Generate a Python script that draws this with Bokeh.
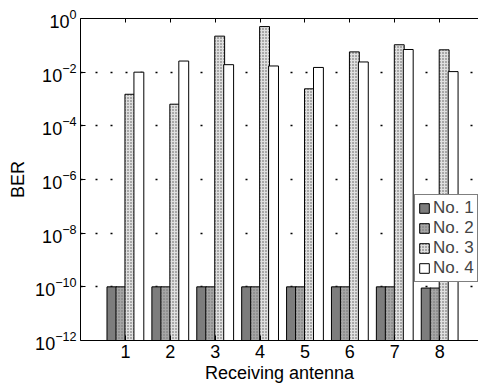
from bokeh.plotting import figure
from bokeh.models import (ColumnDataSource, FixedTicker, LinearAxis, Legend, LegendItem,
                          Range1d)
from bokeh.transform import dodge
from bokeh.embed import file_html
from bokeh.resources import INLINE

antennas = [1, 2, 3, 4, 5, 6, 7, 8]
no1 = [1e-10, 1e-10, 1e-10, 1e-10, 1e-10, 1e-10, 1e-10, 9e-11]
no2 = [1e-10, 1e-10, 1e-10, 1e-10, 1e-10, 1e-10, 1e-10, 9e-11]
no3 = [1.5e-3, 6.4e-4, 0.22, 0.5, 2.4e-3, 5.7e-2, 0.105, 6.8e-2]
no4 = [1.0e-2, 2.6e-2, 1.9e-2, 1.7e-2, 1.5e-2, 2.4e-2, 7.0e-2, 1.05e-2]
series_names = ["No. 1", "No. 2", "No. 3", "No. 4"]
y_ticks = [1e-12, 1e-10, 1e-8, 1e-6, 1e-4, 1e-2, 1e0]
floor = 1e-12

src = ColumnDataSource(dict(x=antennas, no1=no1, no2=no2, no3=no3, no4=no4,
                            base=[floor] * len(antennas)))

FONT = "Liberation Sans"

p = figure(width=478, height=385, output_backend="svg", toolbar_location=None,
           y_axis_type="log", x_range=Range1d(0, 8.865), y_range=Range1d(1e-12, 1),
           min_border_left=80, min_border_right=0, min_border_top=18, min_border_bottom=45)
p.background_fill_color = "white"
p.border_fill_color = "white"
p.outline_line_color = None

styles = [
    dict(fill_color="#7d7d7d", hatch_pattern=None),
    dict(fill_color="#a6a6a6", hatch_pattern="dot", hatch_color="#6e6e6e", hatch_scale=3, hatch_weight=1),
    dict(fill_color="#e0e0e0", hatch_pattern="dot", hatch_color="#555555", hatch_scale=3, hatch_weight=1),
    dict(fill_color="white", hatch_pattern=None),
]
offsets = [-0.3, -0.1, 0.1, 0.3]
cols = ["no1", "no2", "no3", "no4"]
renderers = []
for col, off, st in zip(cols, offsets, styles):
    kw = dict(fill_color=st["fill_color"], line_color="black", line_width=1)
    if st["hatch_pattern"]:
        kw.update(hatch_pattern=st["hatch_pattern"], hatch_color=st["hatch_color"],
                  hatch_scale=st["hatch_scale"], hatch_weight=st["hatch_weight"])
    r = p.vbar(x=dodge("x", off, range=p.x_range), top=col, bottom="base", width=0.22,
               source=src, **kw)
    renderers.append(r)

# axes
p.xaxis.ticker = FixedTicker(ticks=antennas)
p.xaxis.major_label_overrides = {a: str(a) for a in antennas}
p.yaxis.ticker = FixedTicker(ticks=y_ticks, minor_ticks=[])
for ax in p.axis:
    ax.axis_line_color = "black"
    ax.major_tick_in = 5
    ax.major_tick_out = 0
    ax.minor_tick_in = 0
    ax.minor_tick_out = 0
    ax.major_label_text_font = FONT
    ax.major_label_text_color = "black"
    ax.axis_label_text_font = FONT
    ax.axis_label_text_font_style = "normal"
    ax.axis_label_text_color = "black"
    ax.axis_label_text_font_size = "18px"
p.xaxis.major_label_text_font_size = "18px"
p.yaxis.major_label_text_font_size = "18px"
p.xaxis.axis_label = "Receiving antenna"
p.yaxis.axis_label = "BER"
p.xaxis.major_label_standoff = 4
p.xaxis.axis_label_standoff = 2
p.yaxis.major_label_standoff = 4
p.yaxis.axis_label_standoff = 4

top_ax = LinearAxis(ticker=FixedTicker(ticks=antennas),
                    major_label_overrides={a: "" for a in antennas},
                    major_tick_in=4, major_tick_out=0, minor_tick_in=0, minor_tick_out=0,
                    axis_line_color="black", major_label_standoff=0)
p.add_layout(top_ax, "above")

p.xgrid.grid_line_color = None
p.ygrid.ticker = FixedTicker(ticks=y_ticks)
p.ygrid.grid_line_color = "black"
p.ygrid.grid_line_dash = "2 13"
p.ygrid.grid_line_width = 1.5

legend = Legend(items=[LegendItem(label=n, renderers=[r]) for n, r in zip(series_names, renderers)],
                location=(334, 58), label_text_font=FONT, label_text_font_size="17px",
                label_height=17, glyph_width=12, glyph_height=12, label_standoff=3,
                spacing=0, padding=3, margin=0, border_line_color="black",
                background_fill_alpha=1, background_fill_color="white")
p.add_layout(legend, "center")

open("out.html", "w").write(file_html(p, INLINE))
